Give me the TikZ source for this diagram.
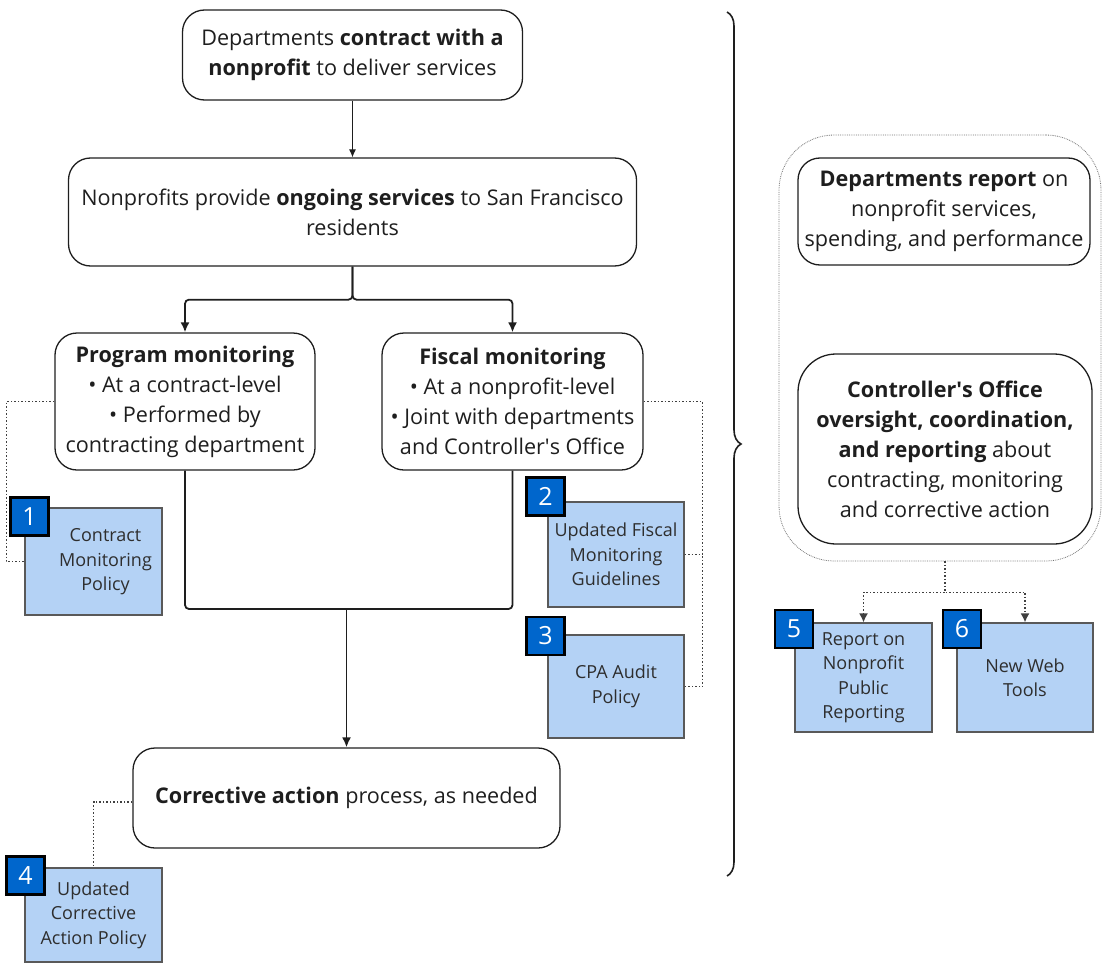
\documentclass[tikz,border=0pt]{standalone}
\usepackage{fontspec}
\setmainfont{Open Sans}
\usepackage{tikz}
\usetikzlibrary{arrows.meta,decorations.pathreplacing}
\definecolor{policyblue}{RGB}{180,210,245}
\definecolor{badgeblue}{RGB}{0,102,204}
\definecolor{ink}{RGB}{30,30,30}
\tikzset{
  stagebox/.style={draw=ink, line width=1.3pt, rounded corners=22pt, align=center, inner sep=0pt,
    font=\fontsize{21.6}{30}\selectfont, text=ink},
  policy/.style={draw=black!65, line width=1.2pt, fill=policyblue, align=center, inner sep=0pt,
    font=\fontsize{18}{24.5}\selectfont, text=black!82},
  badge/.style={draw=black, line width=2.4pt, fill=badgeblue, text=white, minimum size=38pt,
    inner sep=0pt, font=\fontsize{25}{25}\selectfont},
  flow/.style={draw=ink, line width=1.8pt, rounded corners=4pt},
  link/.style={draw=black!75, line width=1.5pt, dotted},
}
\begin{document}
\begin{tikzpicture}[x=1pt,y=-1pt]
  \useasboundingbox (0,0) rectangle (1102,963);

  \node[stagebox, minimum width=340pt, minimum height=90pt] (top) at (352.5,55)
    {Departments \textbf{contract with a}\\\textbf{nonprofit} to deliver services};
  \node[stagebox, minimum width=568pt, minimum height=108pt] (serv) at (352.5,212)
    {Nonprofits provide \textbf{ongoing services} to San Francisco\\residents};
  \node[stagebox, minimum width=260pt, minimum height=137pt] (prog) at (185,401.5)
    {\textbf{Program monitoring}\\• At a contract-level\\• Performed by\\contracting department};
  \node[stagebox, minimum width=261pt, minimum height=137pt] (fisc) at (512.5,401.5)
    {\textbf{Fiscal monitoring}\\• At a nonprofit-level\\• Joint with departments\\and Controller\textquotesingle s Office};
  \node[stagebox, minimum width=427pt, minimum height=100pt] (corr) at (346.5,798)
    {\textbf{Corrective action} process, as needed};

  \node[draw=black!55, densely dotted, line width=0.8pt, rounded corners=55pt,
    minimum width=322pt, minimum height=426pt, inner sep=0pt] (grp) at (940,348) {};
  \node[stagebox, minimum width=292pt, minimum height=107pt] (rep) at (944,211.5)
    {\textbf{Departments report} on\\nonprofit services,\\spending, and performance};
  \node[stagebox, rounded corners=38pt, minimum width=294pt, minimum height=190pt] (ctrl) at (945,449)
    {\textbf{Controller\textquotesingle s Office}\\\textbf{oversight, coordination,}\\\textbf{and reporting} about\\contracting, monitoring\\and corrective action};

  \node[policy, minimum width=137pt, minimum height=107pt] (p1) at (93.5,561.5)
    {\hspace*{24pt}\begin{tabular}{@{}c@{}}Contract\\Monitoring\\Policy\end{tabular}};
  \node[policy, minimum width=136pt, minimum height=105pt] (p2) at (616,554.5) {Updated Fiscal\\Monitoring\\Guidelines};
  \node[policy, minimum width=136pt, minimum height=103pt] (p3) at (616,686.5) {CPA Audit\\Policy};
  \node[policy, minimum width=137pt, minimum height=94pt] (p4) at (93.5,915) {Updated\\Corrective\\Action Policy};
  \node[policy, minimum width=137pt, minimum height=109pt] (p5) at (863.5,677.5) {Report on\\Nonprofit\\Public\\Reporting};
  \node[policy, minimum width=136pt, minimum height=109pt] (p6) at (1025,677.5) {New Web\\Tools};

  \node[badge] (b1) at (29.5,516.5) {1};
  \node[badge] (b2) at (545.5,496.5) {2};
  \node[badge] (b3) at (545.5,636) {3};
  \node[badge] (b4) at (25.5,875.5) {4};
  \node[badge] (b5) at (794,629) {5};
  \node[badge] (b6) at (962,629) {6};

  \draw[draw=ink, line width=1.1pt, -{Latex[length=8pt,width=7pt]}] (top) -- (serv);
  \draw[flow, -{Latex[length=10pt,width=9pt]}] (serv.south) -- ++(0,33) -| (prog.north);
  \draw[flow, -{Latex[length=10pt,width=9pt]}] (serv.south) -- ++(0,33) -| (fisc.north);
  \coordinate (mrg) at (346.5,609);
  \draw[flow] (prog.south) |- (mrg) -| (fisc.south);
  \draw[flow, -{Latex[length=10pt,width=9pt]}] (mrg) -- (corr.north);

  \draw[link] (prog.west) -- ++(-48,0) |- (p1.west);
  \draw[link] (fisc.east) -- ++(59,0) coordinate (fr) |- (p3.east);
  \draw[link] (p2.east) -- (p2.east -| fr);
  \draw[link] ([yshift=-4pt]corr.west) -| (p4.north);
  \draw[link, -{Latex[length=9pt,width=9pt]}] (grp.south -| ctrl) -- ++(0,31) -| (p5.north);
  \draw[link, -{Latex[length=9pt,width=9pt]}] (grp.south -| ctrl) -- ++(0,31) -| (p6.north);

  \draw[draw=ink, line width=1.6pt, decorate, decoration={brace, amplitude=14pt}] (727,12) -- (727,876);
\end{tikzpicture}
\end{document}
